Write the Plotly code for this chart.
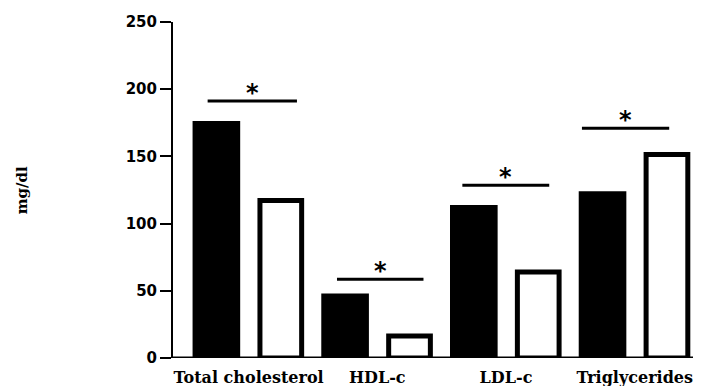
import plotly.graph_objects as go

categories = ["Total cholesterol", "HDL-c", "LDL-c", "Triglycerides"]
group_black = [176.3, 47.9, 113.8, 124.1]
group_white = [117.1, 16.3, 63.9, 151.4]
sig_y = [191.2, 58.6, 128.5, 170.9]
sig_left = [-0.318, -0.313, -0.339, -0.41]
sig_right = [0.376, 0.359, 0.336, 0.268]
y_ticks = [0, 50, 100, 150, 200, 250]

xpos = list(range(len(categories)))

fig = go.Figure()
fig.add_trace(go.Bar(
    x=xpos, y=group_black, width=0.370, offset=-0.435,
    marker=dict(color="black", line=dict(width=0)),
    showlegend=False,
))
fig.add_trace(go.Bar(
    x=xpos, y=group_white, width=0.324, offset=0.0885,
    marker=dict(color="white", line=dict(color="black", width=5)),
    showlegend=False,
))

for i, (yy, l, r) in enumerate(zip(sig_y, sig_left, sig_right)):
    fig.add_shape(type="line", xref="x", yref="y", x0=i + l, x1=i + r, y0=yy, y1=yy,
                  line=dict(color="black", width=3))
    fig.add_annotation(x=i + (l + r) / 2, y=yy, xref="x", yref="y", text="<b>*</b>",
                       showarrow=False, yanchor="bottom", yshift=-8,
                       font=dict(family="DejaVu Sans", size=24, color="black"))

fig.add_annotation(text="<b>mg/dl</b>", xref="paper", yref="paper", x=0, y=0.5,
                   xanchor="center", yanchor="middle", xshift=-150.7, textangle=-90,
                   showarrow=False,
                   font=dict(family="DejaVu Serif", size=15, color="black"))

# page body has an 8px default margin, so the figure is offset by 8px
fig.update_layout(
    width=693, height=378,
    margin=dict(l=164.7, r=0, t=13.7, b=28.3),
    plot_bgcolor="white", paper_bgcolor="white",
    barmode="overlay",
    xaxis=dict(
        range=[-0.587, 3.515], tickvals=xpos,
        ticktext=["<b>%s</b>" % c for c in categories],
        showgrid=False, zeroline=False, showline=False,
        ticks="outside", ticklen=5, tickcolor="rgba(0,0,0,0)",
        tickfont=dict(family="DejaVu Serif", size=16, color="black"),
    ),
    yaxis=dict(
        range=[0, 250], tickvals=y_ticks,
        ticktext=["<b>%d</b>" % v for v in y_ticks],
        showgrid=False, zeroline=False, showline=True, linecolor="black", linewidth=2,
        ticks="outside", ticklen=11, tickwidth=2, tickcolor="black",
        tickfont=dict(family="DejaVu Sans", size=15, color="black"),
    ),
)
fig.add_shape(type="line", xref="paper", yref="y", x0=0, x1=1, y0=0, y1=0,
              line=dict(color="black", width=3), layer="above")

fig.write_html("out.html")
